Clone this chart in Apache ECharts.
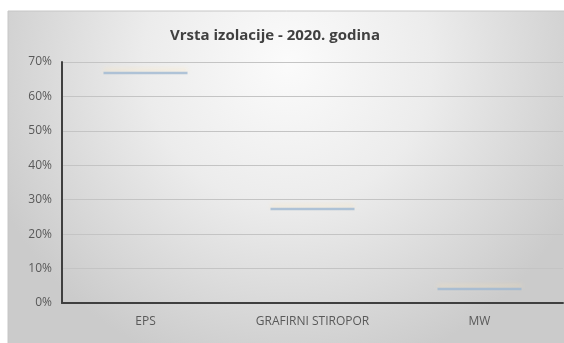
<!DOCTYPE html>
<html>
<head>
<meta charset="utf-8">
<script src="https://cdn.jsdelivr.net/npm/echarts@6/dist/echarts.min.js"></script>
<style>
  html, body { margin: 0; padding: 0; background: #ffffff; }
  #chart { width: 564px; height: 343px; }
</style>
</head>
<body>
<div id="chart"></div>
<script>
// Insulation type shares for 2020
const categories = ['EPS', 'GRAFIRNI STIROPOR', 'MW'];
const shares = [66.8, 27.3, 4.1];
const yTicks = { min: 0, max: 70, interval: 10 };
const titleText = 'Vrsta izolacije - 2020. godina';

const chart = echarts.init(document.getElementById('chart'), null, { renderer: 'canvas' });

chart.setOption({
  animation: false,
  backgroundColor: '#ffffff',
  graphic: [{
    type: 'rect',
    z: -10,
    silent: true,
    shape: { x: 8, y: 11, width: 560, height: 336 },
    style: {
      fill: {
        type: 'radial', x: 0.5, y: 0.15, r: 0.95,
        colorStops: [
          { offset: 0, color: '#fbfbfb' },
          { offset: 0.45, color: '#ececec' },
          { offset: 1, color: '#cbcbcb' }
        ]
      },
      stroke: '#c6c6c6',
      lineWidth: 1
    }
  }],
  title: {
    text: titleText,
    left: 270,
    textAlign: 'center',
    top: 23,
    textStyle: {
      fontFamily: 'Open Sans',
      fontSize: 15,
      fontWeight: 'bold',
      color: '#404040'
    }
  },
  grid: { left: 62, right: 1, top: 62, bottom: 40, containLabel: false },
  xAxis: {
    type: 'category',
    data: categories,
    boundaryGap: true,
    axisLine: { lineStyle: { color: '#3f3f3f', width: 2 } },
    axisTick: { show: false },
    axisLabel: {
      margin: 13,
      color: '#595959',
      fontFamily: 'Open Sans',
      fontSize: 12
    },
    splitLine: { show: false }
  },
  yAxis: {
    type: 'value',
    min: yTicks.min,
    max: yTicks.max,
    interval: yTicks.interval,
    axisLine: { show: true, lineStyle: { color: '#3f3f3f', width: 2 } },
    axisTick: { show: false },
    axisLabel: {
      formatter: '{value}%',
      margin: 10,
      color: '#595959',
      fontFamily: 'Open Sans',
      fontSize: 12
    },
    splitLine: { lineStyle: { color: '#c4c4c4', width: 1 } }
  },
  series: [{
    type: 'scatter',
    data: shares,
    symbol: 'rect',
    symbolSize: [84, 2.5],
    itemStyle: {
      color: '#9fb8d2',
      shadowColor: 'rgba(255, 226, 170, 0.55)',
      shadowBlur: 4,
      shadowOffsetY: -3
    }
  }]
});
</script>
</body>
</html>
